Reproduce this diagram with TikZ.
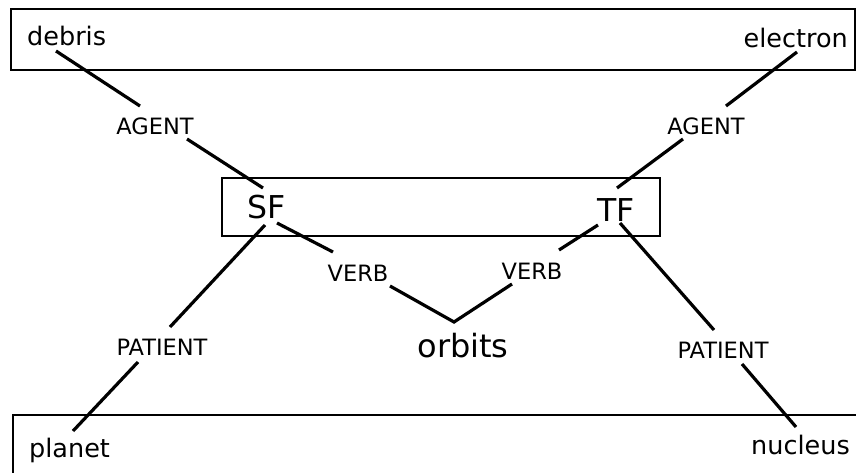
\documentclass[tikz,border=0pt]{standalone}
\usepackage{fontspec}
\setmainfont{DejaVu Sans}
\begin{document}
\begin{tikzpicture}[x=1pt,y=-1pt,
  frame/.style={line width=2.2pt},
  link/.style={line width=3.2pt},
  word/.style={inner sep=0pt,font=\fontsize{25.5}{30}\selectfont},
  role/.style={inner sep=0pt,font=\fontsize{22.5}{27}\selectfont},
  slot/.style={inner sep=0pt,font=\fontsize{31.5}{36}\selectfont},
  verbw/.style={inner sep=0pt,font=\fontsize{32}{38}\selectfont}]
\useasboundingbox (0,0) rectangle (860,472);
% frames
\draw[frame] (11,9) rectangle (855,70);
\draw[frame] (222,178) rectangle (660,236);
\draw[frame] (13,475) -- (13,415) -- (856,415);
% texts
\node[word,anchor=base west] (debris) at (27,45) {debris};
\node[word,anchor=base east] (electron) at (848,47) {electron};
\node[word,anchor=base west] (planet) at (29,457) {planet};
\node[word,anchor=base east] (nucleus) at (850,454) {nucleus};
\node[role,anchor=base] (agentL) at (155,134) {AGENT};
\node[role,anchor=base] (agentR) at (706,134) {AGENT};
\node[role,anchor=base] (verbL) at (358,281) {VERB};
\node[role,anchor=base] (verbR) at (532,279) {VERB};
\node[role,anchor=base] (patL) at (162,355) {PATIENT};
\node[role,anchor=base] (patR) at (723,358) {PATIENT};
\node[slot,anchor=base] (sf) at (267,218) {SF};
\node[slot,anchor=base] (tf) at (616,221) {TF};
\node[verbw,anchor=base] (orbits) at (463,357) {orbits};
% connector end points
\coordinate (debrisE) at (56,51);
\coordinate (agentLn) at (140,106);
\coordinate (agentLs) at (187,139);
\coordinate (sfN) at (263,188);
\coordinate (sfSW) at (265,225);
\coordinate (patLn) at (170,327);
\coordinate (patLs) at (138,362);
\coordinate (planetE) at (73,431);
\coordinate (sfSE) at (277,223);
\coordinate (verbLn) at (333,252);
\coordinate (verbLs) at (390,286);
\coordinate (orbitsV) at (454,322);
\coordinate (verbRs) at (512,284);
\coordinate (verbRn) at (559,250);
\coordinate (tfSW) at (598,225);
\coordinate (tfSE) at (620,223);
\coordinate (patRn) at (714,330);
\coordinate (patRs) at (742,364);
\coordinate (nucleusE) at (796,427);
\coordinate (tfN) at (617,188);
\coordinate (agentRs) at (683,139);
\coordinate (agentRn) at (726,106);
\coordinate (electronE) at (797,52);
% connectors
\draw[link] (debrisE) -- (agentLn);
\draw[link] (agentLs) -- (sfN);
\draw[link] (sfSW) -- (patLn);
\draw[link] (patLs) -- (planetE);
\draw[link] (sfSE) -- (verbLn);
\draw[link] (verbLs) -- (orbitsV) -- (verbRs);
\draw[link] (verbRn) -- (tfSW);
\draw[link] (tfSE) -- (patRn);
\draw[link] (patRs) -- (nucleusE);
\draw[link] (tfN) -- (agentRs);
\draw[link] (agentRn) -- (electronE);
\end{tikzpicture}
\end{document}
